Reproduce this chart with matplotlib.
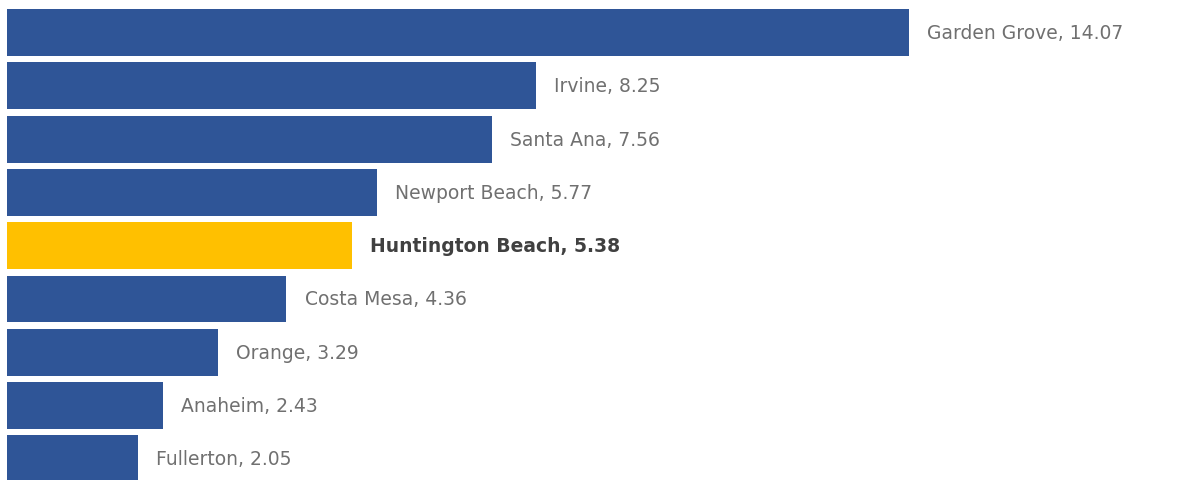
import matplotlib
matplotlib.use("Agg")
import matplotlib.pyplot as plt

cities = ["Garden Grove", "Irvine", "Santa Ana", "Newport Beach", "Huntington Beach",
          "Costa Mesa", "Orange", "Anaheim", "Fullerton"]
values = [14.07, 8.25, 7.56, 5.77, 5.38, 4.36, 3.29, 2.43, 2.05]
highlight = "Huntington Beach"

W, H = 1187, 481
fig = plt.figure(figsize=(W / 100, H / 100), dpi=100)
ax = fig.add_axes([7 / W, 0, 1 - 7 / W, 1])

pitch = 53.3
top = 33.5
ys = list(range(len(cities)))
colors = ["#FFC000" if c == highlight else "#2F5597" for c in cities]
ax.barh(ys, values, height=47 / pitch, color=colors)

for y, c, v in zip(ys, cities, values):
    hl = c == highlight
    ax.annotate(f"{c}, {v:.2f}", (v, y), xytext=(13, 0), textcoords="offset points",
                va="center", ha="left", fontsize=13.5, family="DejaVu Sans",
                color="#404040" if hl else "#707070",
                fontweight="bold" if hl else "normal")

ax.set_xlim(0, (W - 7) / 64.1)
ax.set_ylim((H - top) / pitch, -top / pitch)
ax.axis("off")
fig.savefig("out.png", dpi=100)
